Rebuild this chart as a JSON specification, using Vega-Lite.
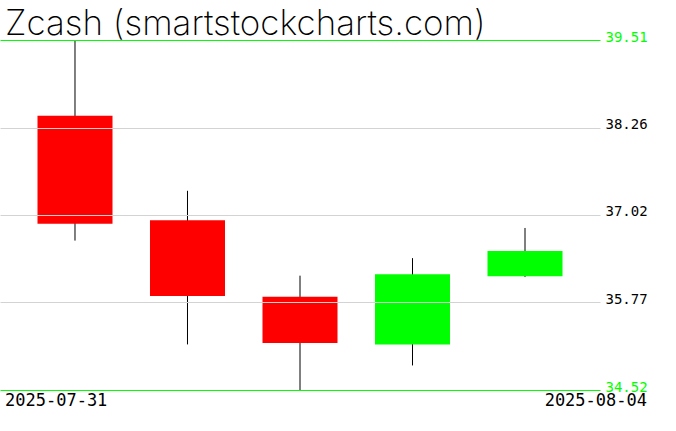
{
  "$schema": "https://vega.github.io/schema/vega-lite/v6.json",
  "width": 600,
  "height": 350,
  "autosize": {"type": "none"},
  "padding": {"left": 0, "top": 40, "right": 76, "bottom": 41},
  "background": "white",
  "title": {
    "text": "Zcash (smartstockcharts.com)",
    "anchor": "start",
    "frame": "group",
    "baseline": "alphabetic",
    "offset": 0,
    "dx": 5,
    "dy": 40,
    "font": "Inter",
    "fontSize": 35,
    "fontWeight": 200,
    "color": "black"
  },
  "config": {
    "view": {"stroke": null},
    "axis": {"domain": false, "ticks": false}
  },
  "data": {
    "values": [
      {"date": "2025-07-31", "open": 38.43, "high": 39.51, "low": 36.65, "close": 36.89},
      {"date": "2025-08-01", "open": 36.94, "high": 37.36, "low": 35.17, "close": 35.86},
      {"date": "2025-08-02", "open": 35.85, "high": 36.15, "low": 34.52, "close": 35.19},
      {"date": "2025-08-03", "open": 35.17, "high": 36.40, "low": 34.87, "close": 36.17},
      {"date": "2025-08-04", "open": 36.14, "high": 36.83, "low": 36.13, "close": 36.50}
    ]
  },
  "encoding": {
    "x": {
      "field": "date",
      "type": "ordinal",
      "scale": {"paddingInner": 0.3333, "paddingOuter": 0.3333},
      "axis": {
        "title": null,
        "orient": "bottom",
        "values": ["2025-07-31", "2025-08-04"],
        "labelAngle": 0,
        "labelFont": "DejaVu Sans Mono",
        "labelFontSize": 17,
        "labelColor": "black",
        "labelPadding": 2,
        "labelBaseline": "top",
        "labelAlign": {"condition": {"test": "datum.value == '2025-07-31'", "value": "left"}, "value": "right"},
        "labelOffset": {"condition": {"test": "datum.value == '2025-07-31'", "value": -70}, "value": 122},
        "grid": false
      }
    }
  },
  "layer": [
    {
      "mark": {"type": "rule", "color": "black", "strokeWidth": 1},
      "encoding": {
        "y": {
          "field": "low",
          "type": "quantitative",
          "scale": {"domain": [34.52, 39.51], "zero": false, "nice": false},
          "axis": {
            "title": null,
            "orient": "right",
            "values": [34.52, 35.77, 37.02, 38.26, 39.51],
            "format": ".2f",
            "grid": true,
            "zindex": 1,
            "gridColor": {"condition": {"test": "datum.value == 39.51 || datum.value == 34.52", "value": "#00ff00"}, "value": "#d3d3d3"},
            "gridOpacity": 1,
            "gridWidth": 1,
            "labelColor": {"condition": {"test": "datum.value == 39.51 || datum.value == 34.52", "value": "#00ff00"}, "value": "black"},
            "labelFont": "DejaVu Sans Mono",
            "labelFontSize": 14,
            "labelBaseline": "alphabetic",
            "labelPadding": 5,
            "labelOffset": 1
          }
        },
        "y2": {"field": "high"}
      }
    },
    {
      "mark": {"type": "bar", "stroke": null},
      "encoding": {
        "y": {"field": "open", "type": "quantitative"},
        "y2": {"field": "close"},
        "color": {
          "condition": {"test": "datum.close >= datum.open", "value": "#00ff00"},
          "value": "#ff0000"
        }
      }
    }
  ]
}
